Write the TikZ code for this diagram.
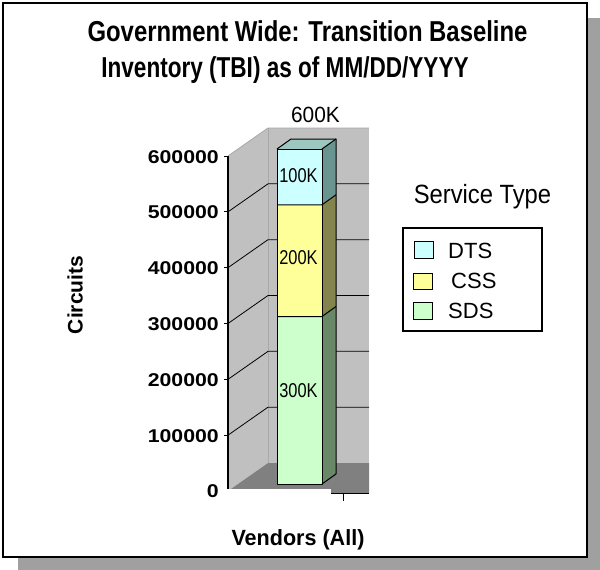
\documentclass[tikz,border=0pt]{standalone}
\usepackage{fontspec}
\usetikzlibrary{calc}
\setmainfont{Liberation Sans}
\definecolor{shadowgray}{HTML}{A0A0A0}
\definecolor{wallgray}{HTML}{C0C0C0}
\definecolor{walledge}{HTML}{A8A8A8}
\definecolor{floorgray}{HTML}{808080}
\definecolor{dtsfill}{HTML}{CCFFFF}
\definecolor{cssfill}{HTML}{FFFF99}
\definecolor{sdsfill}{HTML}{CCFFCC}
\definecolor{dtsside}{HTML}{6A9490}
\definecolor{cssside}{HTML}{84844E}
\definecolor{sdsside}{HTML}{688868}
\definecolor{bartop}{HTML}{9CC8C0}
\newcommand{\tickfmt}[1]{\scalebox{1.15}[1]{#1}}
\tikzset{
  ticklab/.style={anchor=east, inner sep=0pt, font=\bfseries\fontsize{18.5}{18.5}\selectfont},
  barlab/.style={inner sep=0pt, font=\fontsize{20}{20}\selectfont},
  legtext/.style={anchor=west, inner sep=0pt, font=\fontsize{22}{22}\selectfont},
  legsq/.style={draw=black, line width=1pt},
  barline/.style={draw=black, line width=1pt, line join=round},
  grid/.style={draw=black, line width=0.8pt},
  titlefont/.style={inner sep=0pt, anchor=base, font=\bfseries\fontsize{24}{24}\selectfont},
}
\begin{document}
\begin{tikzpicture}[x=1pt,y=-1pt]
\useasboundingbox (0,0) rectangle (600,570);
% shadow and frame
\fill[shadowgray] (18,18) rectangle (600,570);
\draw[line width=2pt, fill=white] (3,3) rectangle (587,557);
% title
\node[titlefont] (title1) at (307.5,41) {\scalebox{0.995}[1.2]{Government Wide: Transition Baseline}};
\node[titlefont] (title2) at (285,77) {\scalebox{0.94}[1.2]{Inventory (TBI) as of MM/DD/YYYY}};
% walls and floor
\fill[wallgray] (228,156) -- (268,128) -- (268,463) -- (228,491) -- cycle;
\fill[wallgray] (268,128) rectangle (369,463);
\fill[floorgray] (228,491) -- (268,463) -- (369,463) -- (369,493) -- (228,493) -- cycle;
\draw[walledge, line width=0.8pt] (228,156) -- (268,128) -- (369,128);
\draw[walledge, line width=0.8pt] (268,128) -- (268,463);
% gridlines
\foreach \k in {1,...,5}{
  \pgfmathsetmacro{\yy}{491-\k*55.833}
  \pgfmathsetmacro{\yb}{\yy-28}
  \draw[grid] (228,\yy) -- (268,\yb) -- (369,\yb);
}
% bar
\coordinate (b0l) at (277,484);
\coordinate (b0r) at (322,484);
\coordinate (b3l) at (277,316.5);
\coordinate (b3r) at (322,316.5);
\coordinate (b5l) at (277,204.8);
\coordinate (b5r) at (322,204.8);
\coordinate (b6l) at (277,149);
\coordinate (b6r) at (322,149);
% side faces
\fill[sdsside] (b0r) -- ++(14,-10) -- ($(b3r)+(14,-10)$) -- (b3r) -- cycle;
\fill[cssside] (b3r) -- ++(14,-10) -- ($(b5r)+(14,-10)$) -- (b5r) -- cycle;
\fill[dtsside] (b5r) -- ++(14,-10) -- ($(b6r)+(14,-10)$) -- (b6r) -- cycle;
\fill[bartop] (b6l) -- (b6r) -- ++(14,-10) -- ($(b6l)+(14,-10)$) -- cycle;
% front faces
\fill[sdsfill] (b0l) rectangle (b3r);
\fill[cssfill] (b3l) rectangle (b5r);
\fill[dtsfill] (b5l) rectangle (b6r);
\draw[barline] (b0l) rectangle (b6r);
\draw[barline] (b3l) -- (b3r) -- ++(14,-10);
\draw[barline] (b5l) -- (b5r) -- ++(14,-10);
\draw[barline] (b0r) -- ++(14,-10) -- ($(b6r)+(14,-10)$) -- ($(b6l)+(14,-10)$) -- (b6l);
\draw[barline] (b6r) -- ++(14,-10);
% axis
\draw[black, line width=1.2pt] (228,156) -- (228,491);
\foreach \k in {0,...,6}{
  \pgfmathsetmacro{\yy}{491-\k*55.833}
  \draw[black, line width=1pt] (224,\yy) -- (228,\yy);
}
% bottom cover and front edge
\fill[white] (224,489) rectangle (331,502);
\draw[black, line width=1pt] (331,493) -- (369,493);
\draw[black, line width=1pt] (343,493) -- (343,501);
% tick labels
\node[ticklab] (t0) at (219,491.5) {\tickfmt{0}};
\node[ticklab] (t1) at (219,436) {\tickfmt{100000}};
\node[ticklab] (t2) at (219,380) {\tickfmt{200000}};
\node[ticklab] (t3) at (219,324.5) {\tickfmt{300000}};
\node[ticklab] (t4) at (219,268.5) {\tickfmt{400000}};
\node[ticklab] (t5) at (219,212.5) {\tickfmt{500000}};
\node[ticklab] (t6) at (219,157.5) {\tickfmt{600000}};
% bar labels
\node[barlab] (l1) at (298.5,175.5) {\scalebox{0.82}[1]{100K}};
\node[barlab] (l2) at (298.5,258) {\scalebox{0.82}[1]{200K}};
\node[barlab] (l3) at (298.5,391) {\scalebox{0.82}[1]{300K}};
\node[inner sep=0pt, font=\fontsize{22}{22}\selectfont] (total) at (315.5,115) {\scalebox{0.95}[1]{600K}};
% axis titles
\node[rotate=90, inner sep=0pt, font=\bfseries\fontsize{21}{21}\selectfont] (ytitle) at (75,295) {Circuits};
\node[inner sep=0pt, font=\bfseries\fontsize{22}{22}\selectfont] (xtitle) at (298,540) {\scalebox{0.98}[1]{Vendors (All)}};
% legend
\node[inner sep=0pt, font=\fontsize{24}{24}\selectfont] (legtitle) at (482.5,197) {\scalebox{0.99}[1.1]{Service Type}};
\draw[black, line width=1.2pt] (403,228) rectangle (542,331);
\filldraw[legsq, fill=dtsfill] (414,241) rectangle (433,258);
\filldraw[legsq, fill=cssfill] (413,273) rectangle (432,289);
\filldraw[legsq, fill=sdsfill] (413,302) rectangle (432,319);
\node[legtext] (dts) at (448,250.5) {DTS};
\node[legtext] (css) at (451,281) {CSS};
\node[legtext] (sds) at (448,311) {SDS};
\end{tikzpicture}
\end{document}
